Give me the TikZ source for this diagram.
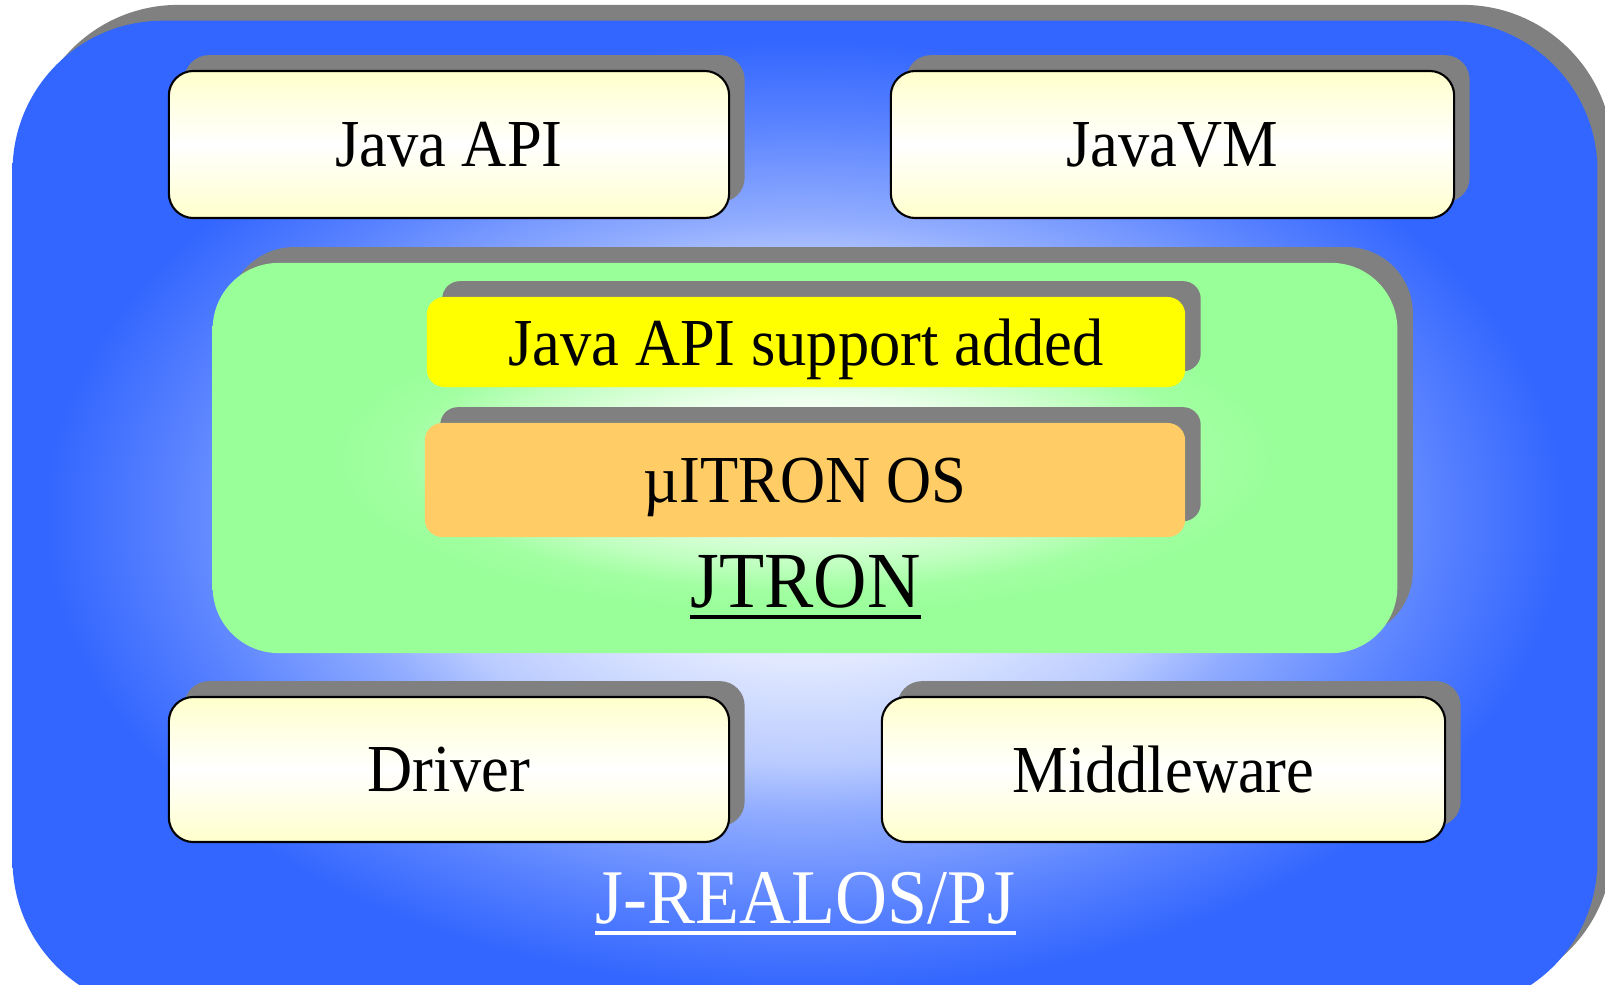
\documentclass[tikz,border=0pt]{standalone}
\usepackage{fontspec}
\setmainfont[FakeStretch=0.93]{Liberation Serif}
\usetikzlibrary{shadows}

\definecolor{realosblue}{HTML}{3366FF}
\definecolor{jtrongreen}{HTML}{99FF99}
\definecolor{apiyellow}{HTML}{FFFF00}
\definecolor{osorange}{HTML}{FFCC66}
\definecolor{boxcream}{HTML}{FFFFCC}
\definecolor{shadowgray}{HTML}{808080}
\colorlet{realosA}{realosblue!15!white}
\colorlet{realosB}{realosblue!34!white}
\colorlet{realosC}{realosblue!54!white}
\colorlet{realosD}{realosblue!82!white}
\colorlet{jtronA}{jtrongreen!16!white}
\colorlet{jtronB}{jtrongreen!62!white}
\colorlet{jtronC}{jtrongreen!92!white}

\pgfdeclareradialshading{realosglow}{\pgfpoint{0bp}{0bp}}{color(0bp)=(white); color(7.5bp)=(realosA); color(12.5bp)=(realosB); color(15bp)=(realosC); color(20bp)=(realosD); color(24bp)=(realosblue); color(50bp)=(realosblue)}
\pgfdeclareradialshading{jtronglow}{\pgfpoint{0bp}{0bp}}{color(0bp)=(white); color(7.5bp)=(jtronA); color(13.75bp)=(jtronB); color(17bp)=(jtronC); color(20bp)=(jtrongreen); color(50bp)=(jtrongreen)}

\tikzset{
	boxshadow/.style={drop shadow={shadow xshift=4.4pt, shadow yshift=4.5pt, fill=shadowgray, opacity=1}},
	realosframe/.style={boxshadow, shade, shading=realosglow, rounded corners=42.7pt, minimum width=15.84cm, minimum height=9.89cm},
	layer/.style={boxshadow, rounded corners=7pt, draw=black, line width=0.6pt, top color=boxcream, bottom color=boxcream, middle color=white, minimum width=5.6cm, minimum height=1.47cm, text depth=0pt, font=\fontsize{19.1}{22}\selectfont},
	kernel/.style={boxshadow, shade, shading=jtronglow, rounded corners=18.8pt, minimum width=11.84cm, minimum height=3.9cm},
	kernelpart/.style={boxshadow, rounded corners=5pt, text depth=0pt, font=\fontsize{19.1}{22}\selectfont},
	banner/.style={inner sep=0pt, anchor=base, font=\fontsize{22.6}{26}\selectfont},
	uline/.style={line width=1.15pt}
}

\begin{document}
\begin{tikzpicture}[x=0.01cm,y=-0.01cm]
	\useasboundingbox (0,0) rectangle (1605,984);
	\clip (0,0) rectangle (1605,984);

	%outer frame
	\node[realosframe] (realos) at (805,515.5) {};
	\node[banner, white, font=\fontsize{22}{26}\selectfont] (realostxt) at (805.5,923) {J-REALOS/PJ};

	%upper row
	\node[layer] (javaapi) at (449,144.5) {Java API};
	\node[layer, minimum width=5.63cm] (javavm) at (1172.5,144.5) {JavaVM};

	%kernel
	\node[kernel] (jtron) at (805,458) {};
	\node[kernelpart, fill=apiyellow, minimum width=7.58cm, minimum height=0.9cm] (apisupport) at (806,342) {Java API support added};
	\node[kernelpart, fill=osorange, minimum width=7.6cm, minimum height=1.14cm] (uitron) at (805,480) {µITRON OS};
	\node[banner] (jtrontxt) at (805.5,607) {JTRON};

	%lower row
	\node[layer, minimum height=1.45cm] (driver) at (449,769.5) {Driver};
	\node[layer, minimum width=5.63cm, minimum height=1.45cm] (middleware) at (1163.5,769.5) {Middleware};

	%underlines
	\draw[uline] ([yshift=-2.85pt]jtrontxt.base west) -- ([yshift=-2.85pt]jtrontxt.base east);
	\draw[uline, white] ([yshift=-2.85pt]realostxt.base west) -- ([yshift=-2.85pt]realostxt.base east);
\end{tikzpicture}
\end{document}
